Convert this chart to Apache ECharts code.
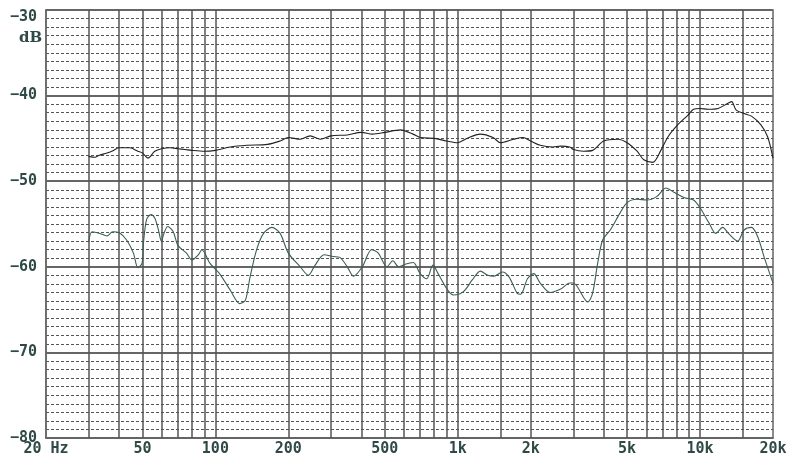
<!DOCTYPE html>
<html><head><meta charset="utf-8">
<script src="https://cdn.jsdelivr.net/npm/echarts@6/dist/echarts.min.js"></script>
<style>html,body{margin:0;padding:0;background:#fff}#c{width:790px;height:457px}</style>
</head><body><div id="c"></div>
<script>
// tick labels
const xTickValues = [20, 50, 100, 200, 500, 1000, 2000, 5000, 10000, 20000];
const xTickLabels = ['20 Hz', '50', '100', '200', '500', '1k', '2k', '5k', '10k', '20k'];
const yTickValues = [-30, -40, -50, -60, -70, -80];
const yTickLabels = ['\u221230', '\u221240', '\u221250', '\u221260', '\u221270', '\u221280'];
const gridFreqs = [30,40,50,60,70,80,90,100,200,300,400,500,600,700,800,900,1000,1500,2000,3000,4000,5000,6000,7000,8000,9000,10000,15000];

// upper (black) curve
const upperFreq = [30,31.9,33,35.7,38,40,44.4,47.9,50,52.7,56.2,60,65,70,75,80,90,100,115,135,164,185,200,224,246,271,300,350,400,445,500,580,654,700,800,900,1000,1090,1240,1400,1500,1700,1860,2000,2190,2470,2661,2900,3000,3300,3605,4000,4580,5000,5500,5860,6380,6890,7380,8100,8900,9400,10000,10780,11860,13040,13500,14100,15200,16300,17800,19000,20000];
const upperDb = [-47.1,-47.2,-47.0,-46.7,-46.4,-46.1,-46.1,-46.5,-46.7,-47.3,-46.5,-46.2,-46.1,-46.2,-46.3,-46.4,-46.5,-46.4,-46.0,-45.8,-45.7,-45.3,-44.9,-45.1,-44.7,-45.1,-44.7,-44.6,-44.3,-44.5,-44.3,-44.0,-44.5,-44.9,-45.0,-45.3,-45.5,-45.0,-44.5,-44.9,-45.5,-45.1,-44.9,-45.3,-45.8,-46.0,-45.9,-46.0,-46.3,-46.5,-46.4,-45.3,-45.1,-45.5,-46.5,-47.5,-47.8,-46.4,-44.8,-43.4,-42.3,-41.6,-41.5,-41.6,-41.5,-40.9,-40.7,-41.7,-42.1,-42.4,-43.4,-44.8,-47.3];

// lower (green) curve
const lowerFreq = [30,31,33.4,35.7,37.7,40,43.1,45.9,47.9,49.8,50.5,52,54.2,56.2,58,60,61,63.6,67,70,76,80,85,88,95,104,115,126,133,139,148,158,171,185,200,224,242,258,281,306,326,350,372,404,441,470,510,540,570,607,655,700,745,790,830,908,960,1056,1150,1240,1330,1410,1530,1630,1760,1820,1940,2060,2190,2410,2660,2900,3000,3440,3600,3780,3960,4260,4680,5000,5480,6030,6620,7240,7800,8570,9400,10000,10900,11600,12400,13100,14300,15200,16300,17300,18400,20000];
const lowerDb = [-57.1,-55.9,-56.1,-56.4,-55.9,-56.0,-56.9,-58.4,-60.1,-59.6,-57.2,-54.5,-53.9,-54.3,-55.5,-57.1,-56.3,-55.3,-55.9,-57.5,-58.4,-59.2,-58.6,-58.0,-59.6,-60.8,-62.7,-64.3,-63.9,-61.2,-58.0,-56.1,-55.4,-56.1,-58.4,-60.0,-61.0,-59.8,-58.6,-58.8,-58.9,-60.0,-61.1,-60.0,-58.0,-58.4,-60.0,-59.3,-60.0,-59.7,-59.5,-60.8,-61.4,-59.8,-60.8,-62.7,-63.3,-62.9,-61.5,-60.5,-61.0,-61.1,-60.6,-61.2,-63.1,-63.2,-61.4,-60.8,-61.9,-63.0,-62.6,-61.9,-61.9,-64.1,-63.1,-59.6,-56.9,-55.7,-53.7,-52.5,-52.1,-52.2,-51.8,-50.8,-51.3,-51.9,-52.2,-53.1,-54.9,-56.1,-55.4,-56.1,-57.0,-55.7,-55.4,-56.5,-58.9,-61.9];

const zip = (a, b) => a.map((v, i) => [v, b[i]]);
const textColor = '#2f4a46';
const chart = echarts.init(document.getElementById('c'), null, {renderer: 'canvas'});
chart.setOption({
  animation: false,
  backgroundColor: '#fff',
  grid: {left: 46, right: 17, top: 10, bottom: 19, show: true, borderColor: '#666', borderWidth: 1.5, backgroundColor: 'transparent'},
  xAxis: {
    type: 'log', logBase: 10, min: 20, max: 20000,
    axisLine: {show: true, lineStyle: {color: '#666', width: 1.5}},
    axisTick: {show: false},
    splitLine: {show: false},
    minorSplitLine: {show: false},
    axisLabel: {
      customValues: xTickValues,
      formatter: v => { const i = xTickValues.findIndex(t => Math.abs(t - v) / t < 1e-6); return i >= 0 ? xTickLabels[i] : ''; },
      color: textColor, fontFamily: 'DejaVu Sans Mono', fontWeight: 'bold', fontSize: 15, margin: 4,
      showMinLabel: true, showMaxLabel: true, hideOverlap: false
    }
  },
  yAxis: {
    type: 'value', min: -80, max: -30, interval: 10,
    axisLine: {show: true, lineStyle: {color: '#666', width: 1.5}},
    axisTick: {show: false},
    minorTick: {show: false, splitNumber: 10},
    splitLine: {show: true, lineStyle: {color: '#666', width: 2}},
    minorSplitLine: {show: true, lineStyle: {color: '#555', width: 1, type: [3, 2]}},
    axisLabel: {
      formatter: v => { const i = yTickValues.indexOf(v); return i >= 0 ? yTickLabels[i] : ''; },
      color: textColor, fontFamily: 'DejaVu Sans Mono', fontWeight: 'bold', fontSize: 15, margin: 9,
      verticalAlignMaxLabel: 'top'
    }
  },
  graphic: [{
    type: 'text', left: 19, top: 31,
    style: {text: 'dB', fill: textColor, font: 'bold 15px "DejaVu Serif"'}
  }],
  series: [
    {
      type: 'line', data: [], z: 1, silent: true,
      markLine: {
        silent: true, symbol: 'none', label: {show: false}, animation: false,
        lineStyle: {color: '#555', width: 1.5, type: 'solid'},
        data: gridFreqs.map(f => ({xAxis: f}))
      }
    },
    {
      type: 'line', data: zip(upperFreq, upperDb), z: 5, showSymbol: false, smooth: 0.3,
      lineStyle: {color: '#222', width: 1.1}
    },
    {
      type: 'line', data: zip(lowerFreq, lowerDb), z: 5, showSymbol: false, smooth: 0.3,
      lineStyle: {color: '#3b5f52', width: 1.1}
    }
  ]
});
</script></body></html>
